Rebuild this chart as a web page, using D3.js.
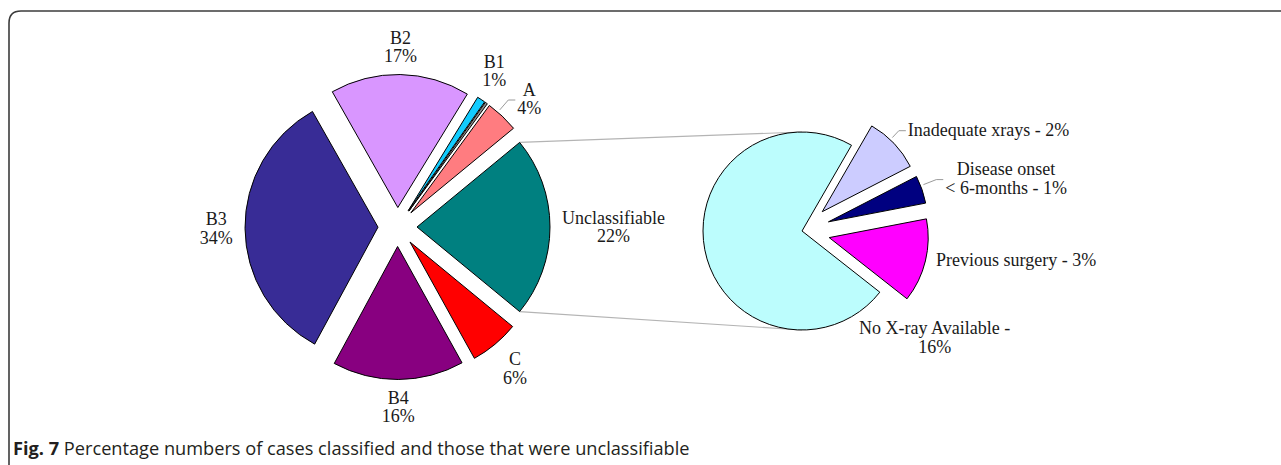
<!DOCTYPE html>
<html>
<head>
<meta charset="utf-8">
<script src="https://cdn.jsdelivr.net/npm/d3@7"></script>
<style>
  html, body { margin: 0; padding: 0; background: #fff; }
  svg { display: block; }
  .lbl { font-family: "Liberation Serif", "Times New Roman", serif; font-size: 18px; fill: #1a1a1a; }
</style>
</head>
<body>
<svg id="chart" width="1281" height="465"></svg>
<script>
// main pie, clockwise starting from A
const mainNames = ["A", "Unclassifiable", "C", "B4", "B3", "B2", "B1", ""]
const mainValues = [4, 22, 6, 16, 34, 17, 1, 0.3]
const mainColors = ["#ff7c80", "#008080", "#ff0000", "#880080", "#382c96", "#d996ff", "#12ccff", "#8c8c8c"]

// breakdown of the unclassifiable cases, clockwise
const subNames = ["Inadequate xrays", "Disease onset|< 6-months", "Previous surgery", "No X-ray Available"]
const subValues = [2, 1, 3, 16]
const subColors = ["#ccccff", "#000080", "#ff00ff", "#bcfdfd"]
const subFormat = ["{n} - {v}%", "{n} - {v}%", "{n} - {v}%", "{n} -|{v}%"]

const captionBold = "Fig. 7"
const captionText = " Percentage numbers of cases classified and those that were unclassifiable"

// layout
const mainGeo = { cx: 397.5, cy: 227, r: 133, explode: 19.5 }
const subGeo = { cx: 802, cy: 231, r: 99, explode: 28, start: 30 }
const subExploded = [1, 1, 1, 0]
const mainLabelShift = [2.5, 0, 0, 0, 0, 0, -1.5, 0]   // degrees, A label was dragged a bit
const mainLeader = [true, false, false, false, false, false, false, false]
const subLabelAngle = [61.5, 75.6, 97.8, 128.7]
const subLabelGap = [11.5, 21, 9, 2.5]
const subLeader = [true, true, false, false]
const lineH = 18.5, capH = 12

const deg = Math.PI / 180
const dir = a => [Math.sin(a), -Math.cos(a)]
const mid = d => (d.startAngle + d.endAngle) / 2

const svg = d3.select('#chart')

// frame (top and left edge only, rounded corner)
svg.append('path')
  .attr('d', 'M9,465V23Q9,11 21,11H1281')
  .attr('fill', 'none')
  .attr('stroke', '#3c3c3c')
  .attr('stroke-width', 1.6)

// rotate the main pie so the "other" slice points at 3 o'clock
const otherIndex = mainNames.indexOf('Unclassifiable')
const mainTotal = d3.sum(mainValues)
const turn = (d3.sum(mainValues.slice(0, otherIndex)) + mainValues[otherIndex] / 2) / mainTotal * 2 * Math.PI
const mainStart = Math.PI / 2 - turn

const mainPie = d3.pie().sort(null).startAngle(mainStart).endAngle(mainStart + 2 * Math.PI)
const subPie = d3.pie().sort(null).startAngle(subGeo.start * deg).endAngle(subGeo.start * deg + 2 * Math.PI)
const mainArcs = mainPie(mainValues)
const subArcs = subPie(subValues)

const mainArc = d3.arc().innerRadius(0).outerRadius(mainGeo.r)
const subArc = d3.arc().innerRadius(0).outerRadius(subGeo.r)

const shift = (d, e) => { const [x, y] = dir(mid(d)); return [x * e, y * e] }
const mainShift = d => shift(d, mainGeo.explode)
const subShift = (d, i) => shift(d, subGeo.explode * subExploded[i])

// connector lines between the two pies
const other = mainArcs[otherIndex]
const [ox, oy] = mainShift(other)
const corner = a => { const [x, y] = dir(a); return [mainGeo.cx + ox + x * mainGeo.r, mainGeo.cy + oy + y * mainGeo.r] }
const connectors = [
  [corner(other.startAngle), [subGeo.cx, subGeo.cy - subGeo.r]],
  [corner(other.endAngle), [subGeo.cx, subGeo.cy + subGeo.r]]
]
svg.append('g').selectAll('line')
  .data(connectors)
  .join('line')
  .attr('x1', d => d[0][0]).attr('y1', d => d[0][1])
  .attr('x2', d => d[1][0]).attr('y2', d => d[1][1])
  .attr('stroke', '#b4b4b4')
  .attr('stroke-width', 1.2)

// slices
svg.append('g')
  .attr('transform', `translate(${mainGeo.cx},${mainGeo.cy})`)
  .selectAll('path')
  .data(mainArcs)
  .join('path')
  .attr('d', mainArc)
  .attr('transform', d => `translate(${mainShift(d)})`)
  .attr('fill', (d, i) => mainColors[i])
  .attr('stroke', '#000')
  .attr('stroke-width', 1)

svg.append('g')
  .attr('transform', `translate(${subGeo.cx},${subGeo.cy})`)
  .selectAll('path')
  .data(subArcs)
  .join('path')
  .attr('d', subArc)
  .attr('transform', (d, i) => `translate(${subShift(d, i)})`)
  .attr('fill', (d, i) => subColors[i])
  .attr('stroke', '#000')
  .attr('stroke-width', 1)

// labels: text block pushed outside the slice along the label angle
function addLabel(geo, lines, angle, base, gap) {
  const t = svg.append('text').attr('class', 'lbl').attr('text-anchor', 'middle')
  lines.forEach(s => t.append('tspan').text(s))
  const w = d3.max(t.selectAll('tspan').nodes(), n => n.getComputedTextLength())
  const hh = (capH + lineH * (lines.length - 1)) / 2
  const dist = base + gap + w / 2 * Math.abs(Math.sin(angle)) + hh * Math.abs(Math.cos(angle))
  const x = geo.cx + dist * Math.sin(angle)
  const y = geo.cy - dist * Math.cos(angle)
  t.selectAll('tspan').attr('x', x).attr('y', (s, i) => y - hh + capH + i * lineH)
  return { x, y, w }
}

function addLeader(geo, d, off, r, lab) {
  const ax = geo.cx + off[0], ay = geo.cy + off[1]
  const left = lab.x - lab.w / 2
  const ly = lab.y + 1
  const elbow = [left - 9, ly]
  let a = Math.atan2(elbow[0] - ax, -(elbow[1] - ay))
  if (a < 0) a += 2 * Math.PI
  const lo = d.startAngle % (2 * Math.PI), hi = lo + (d.endAngle - d.startAngle)
  let aa = a < lo ? a + 2 * Math.PI : a
  aa = Math.max(lo, Math.min(hi, aa))
  const [dx, dy] = dir(aa)
  const p0 = [ax + dx * (r + 3), ay + dy * (r + 3)]
  svg.append('path')
    .attr('d', d3.line()([p0, elbow, [left - 2, ly]]))
    .attr('fill', 'none')
    .attr('stroke', '#9a9a9a')
    .attr('stroke-width', 1)
}

mainArcs.forEach((d, i) => {
  if (!mainNames[i]) return
  const lab = addLabel(mainGeo, [mainNames[i], mainValues[i] + '%'],
    mid(d) + mainLabelShift[i] * deg, mainGeo.r + mainGeo.explode, 12)
  if (mainLeader[i]) addLeader(mainGeo, d, mainShift(d), mainGeo.r, lab)
})

subArcs.forEach((d, i) => {
  const text = subFormat[i].replace('{n}', subNames[i]).replace('{v}', subValues[i])
  const lab = addLabel(subGeo, text.split('|'), subLabelAngle[i] * deg,
    subGeo.r + subGeo.explode * subExploded[i], subLabelGap[i])
  if (subLeader[i]) addLeader(subGeo, d, subShift(d, i), subGeo.r, lab)
})

// caption
const cap = svg.append('text')
  .attr('x', 13)
  .attr('y', 455)
  .style('font-family', '"Open Sans", "Noto Sans", sans-serif')
  .style('font-size', '18.2px')
  .attr('fill', '#231f20')
cap.append('tspan').attr('font-weight', 'bold').text(captionBold)
cap.append('tspan').text(captionText)
</script>
</body>
</html>
